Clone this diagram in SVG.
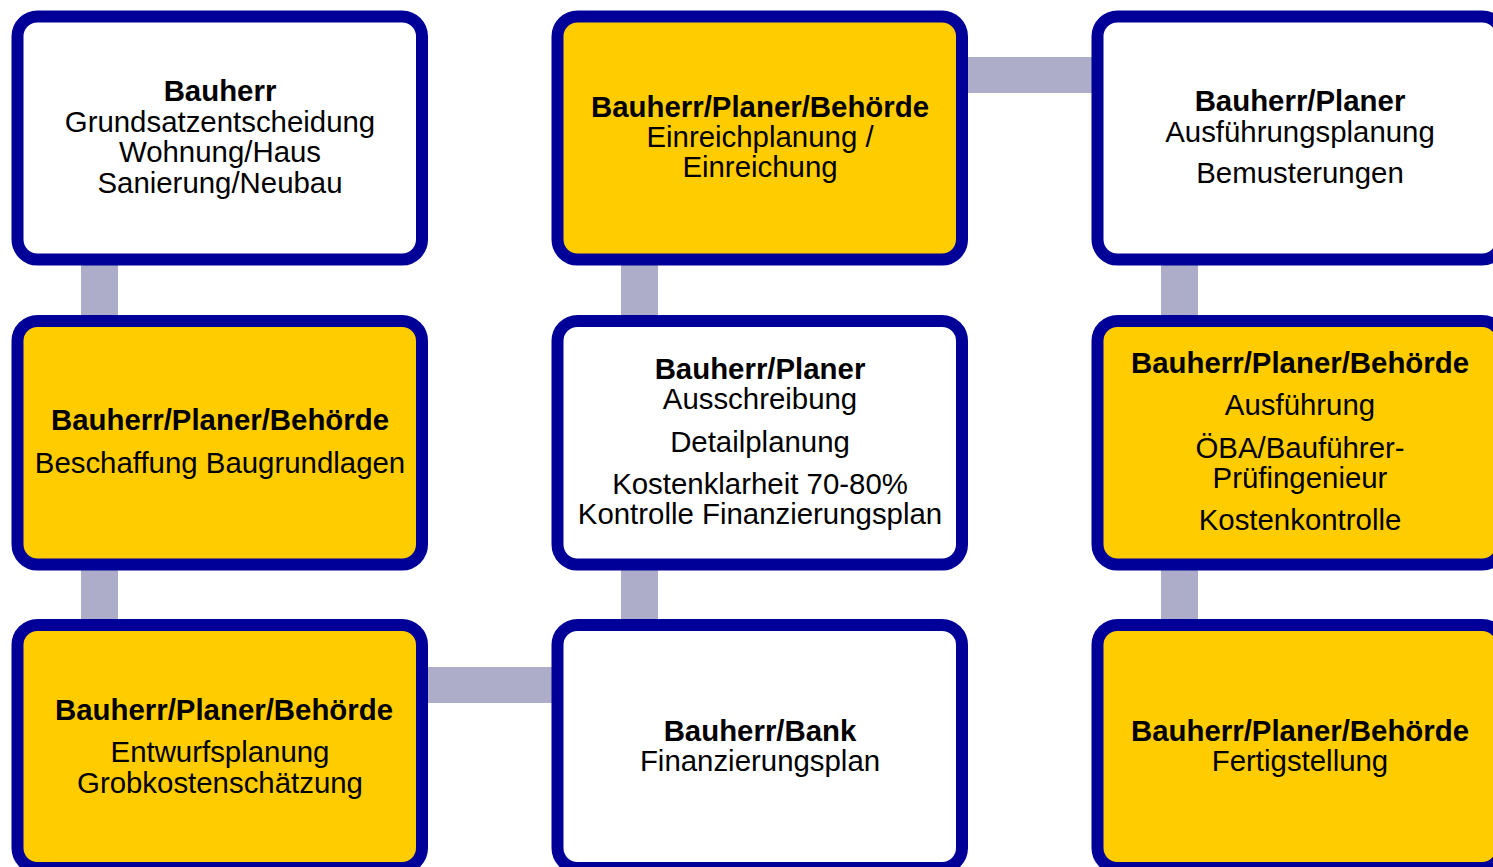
<svg xmlns="http://www.w3.org/2000/svg" width="1493" height="867" viewBox="0 0 1493 867">
<style>
.box{stroke:#000099;stroke-width:12}
.w{fill:#FFFFFF}
.y{fill:#FFCC00}
.con{fill:#ADADCA}
text{font-family:"Liberation Sans",Arial,sans-serif;font-size:29.4px;fill:#000;text-anchor:middle}
.b{font-weight:bold}
</style>
<rect width="1493" height="867" fill="#FFFFFF"/>
<g id="connectors">
<rect class="con" x="81" y="255" width="37" height="72"/>
<rect class="con" x="81" y="560" width="37" height="70"/>
<rect class="con" x="621" y="255" width="37" height="72"/>
<rect class="con" x="621" y="560" width="37" height="70"/>
<rect class="con" x="1161" y="255" width="37" height="72"/>
<rect class="con" x="1161" y="560" width="37" height="70"/>
<rect class="con" x="960" y="57" width="145" height="36"/>
<rect class="con" x="420" y="667" width="145" height="36"/>
</g>
<g id="node-a">
<rect class="box w" x="17.5" y="16.5" width="404.5" height="243" rx="20"/>
<text class="b" x="220" y="101">Bauherr</text>
<text x="220" y="132">Grundsatzentscheidung</text>
<text x="220" y="162">Wohnung/Haus</text>
<text x="220" y="193">Sanierung/Neubau</text>
</g>
<g id="node-b">
<rect class="box y" x="557.5" y="16.5" width="404.5" height="243" rx="20"/>
<text class="b" x="760" y="117">Bauherr/Planer/Behörde</text>
<text x="760" y="147">Einreichplanung /</text>
<text x="760" y="177">Einreichung</text>
</g>
<g id="node-c">
<rect class="box w" x="1097.5" y="16.5" width="404.5" height="243" rx="20"/>
<text class="b" x="1300" y="111">Bauherr/Planer</text>
<text x="1300" y="142">Ausführungsplanung</text>
<text x="1300" y="183">Bemusterungen</text>
</g>
<g id="node-d">
<rect class="box y" x="17.5" y="321" width="404.5" height="243.5" rx="20"/>
<text class="b" x="220" y="430">Bauherr/Planer/Behörde</text>
<text x="220" y="473">Beschaffung Baugrundlagen</text>
</g>
<g id="node-e">
<rect class="box w" x="557.5" y="321" width="404.5" height="243.5" rx="20"/>
<text class="b" x="760" y="379">Bauherr/Planer</text>
<text x="760" y="409">Ausschreibung</text>
<text x="760" y="452">Detailplanung</text>
<text x="760" y="494">Kostenklarheit 70-80%</text>
<text x="760" y="524">Kontrolle Finanzierungsplan</text>
</g>
<g id="node-f">
<rect class="box y" x="1097.5" y="321" width="404.5" height="243.5" rx="20"/>
<text class="b" x="1300" y="373">Bauherr/Planer/Behörde</text>
<text x="1300" y="415">Ausführung</text>
<text x="1300" y="458">ÖBA/Bauführer-</text>
<text x="1300" y="488">Prüfingenieur</text>
<text x="1300" y="530">Kostenkontrolle</text>
</g>
<g id="node-g">
<rect class="box y" x="17.5" y="625" width="404.5" height="243" rx="20"/>
<text class="b" x="224" y="720">Bauherr/Planer/Behörde</text>
<text x="220" y="762">Entwurfsplanung</text>
<text x="220" y="793">Grobkostenschätzung</text>
</g>
<g id="node-h">
<rect class="box w" x="557.5" y="625" width="404.5" height="243" rx="20"/>
<text class="b" x="760" y="741">Bauherr/Bank</text>
<text x="760" y="771">Finanzierungsplan</text>
</g>
<g id="node-i">
<rect class="box y" x="1097.5" y="625" width="404.5" height="243" rx="20"/>
<text class="b" x="1300" y="741">Bauherr/Planer/Behörde</text>
<text x="1300" y="771">Fertigstellung</text>
</g>
</svg>
